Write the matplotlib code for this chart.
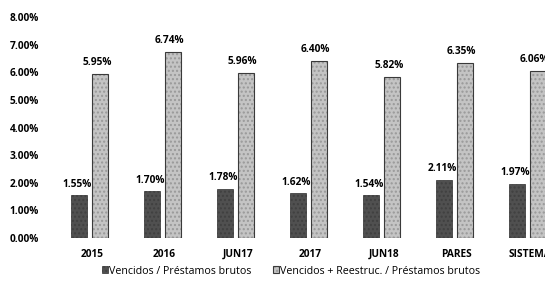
#!/usr/bin/env python
# Vencidos / Prestamos brutos vs. Vencidos + Reestruc. bar chart

import numpy as np
import matplotlib
matplotlib.use("Agg")
import matplotlib.pyplot as plt

categories = ["2015", "2016", "JUN17", "2017", "JUN18", "PARES", "SISTEMA"]
vencidos = [1.55, 1.70, 1.78, 1.62, 1.54, 2.11, 1.97]
vencidos_reestruc = [5.95, 6.74, 5.96, 6.40, 5.82, 6.35, 6.06]
yticks = [0, 1, 2, 3, 4, 5, 6, 7, 8]
series_names = ["Vencidos / Préstamos brutos",
                "Vencidos + Reestruc. / Préstamos brutos"]

plt.rcParams['font.family'] = ['Open Sans', 'DejaVu Sans']

fig = plt.figure(figsize=(5.45, 2.83), dpi=100)
# axes runs past the right edge: the last category is cut off in the original
ax = fig.add_axes([53 / 545, 45 / 283, 511 / 545, 221 / 283])

x = np.arange(len(categories))
w = 0.22
off = 0.14
b1 = ax.bar(x - off, vencidos, w, color="#505050", edgecolor="#2e2e2e",
            linewidth=0.5, hatch="....", label=series_names[0])
b2 = ax.bar(x + off, vencidos_reestruc, w, color="#c4c4c4", edgecolor="#3a3a3a",
            linewidth=0.8, hatch="....", label=series_names[1])
for p in b1:
  p._hatch_color = (0.25, 0.25, 0.25, 1)
for p in b2:
  p._hatch_color = (0.6, 0.6, 0.6, 1)

for i in range(len(categories)):
  ax.text(x[i] - off - 0.03, vencidos[i] + 0.2, "%.2f%%" % vencidos[i],
          ha="center", va="bottom", fontsize=7.3, fontweight="bold")
  ax.text(x[i] + off - 0.04, vencidos_reestruc[i] + 0.22, "%.2f%%" % vencidos_reestruc[i],
          ha="center", va="bottom", fontsize=7.3, fontweight="bold")

ax.set_xlim(-0.5, len(categories) - 0.5)
ax.set_ylim(0, 8)
ax.set_yticks(yticks)
ax.set_yticklabels(["%.2f%%" % v for v in yticks])
ax.set_xticks(x + 0.03)
ax.set_xticklabels(categories)
ax.tick_params(axis="y", length=0, labelsize=7.3, pad=10)
ax.tick_params(axis="x", length=0, labelsize=7.3, pad=8)
for lab in ax.get_xticklabels() + ax.get_yticklabels():
  lab.set_fontweight("bold")
for s in ax.spines.values():
  s.set_visible(False)

fig.legend(handles=[b1, b2], labels=series_names, loc="center",
           bbox_to_anchor=(291 / 545, 1 - 271 / 283), ncol=2, frameon=False,
           fontsize=7.7, handlelength=0.6, handleheight=0.6, handletextpad=0.1,
           columnspacing=2.0)

fig.savefig("out.png", dpi=100)
